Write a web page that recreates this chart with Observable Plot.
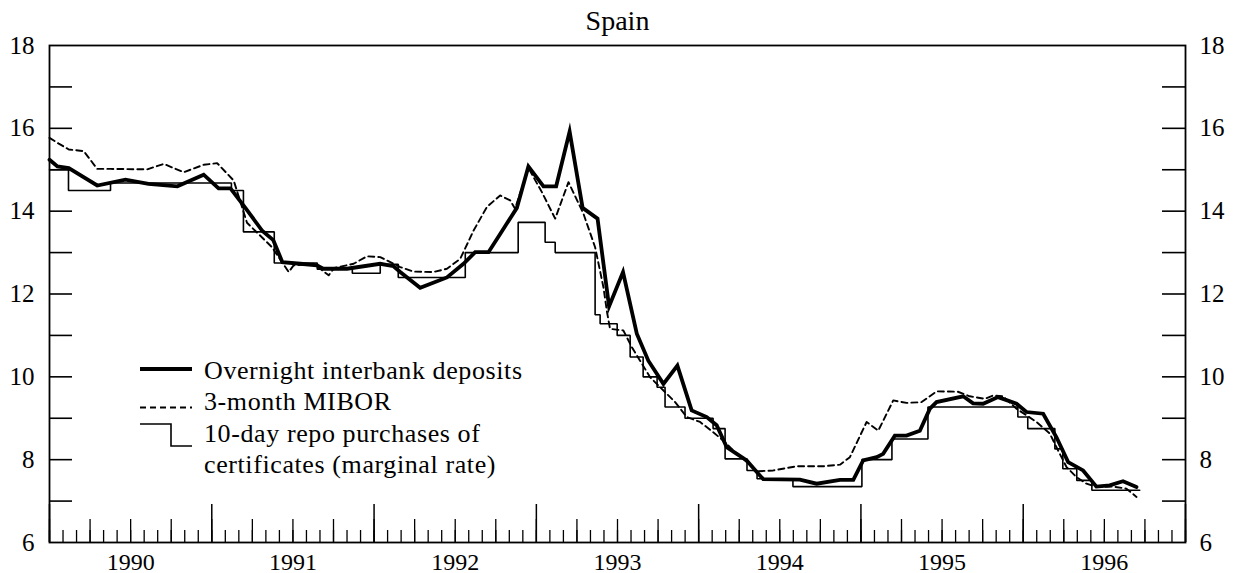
<!DOCTYPE html>
<html><head><meta charset="utf-8">
<script src="https://cdn.jsdelivr.net/npm/d3@7"></script>
<script src="https://cdn.jsdelivr.net/npm/@observablehq/plot@0.6"></script>
<style>
body{margin:0;background:#fff;}
#wrap{position:relative;width:1234px;height:573px;}
#legend{position:absolute;left:0;top:0;pointer-events:none;}
</style></head><body><div id="wrap"></div>
<script>
// ---- data (decimal years, percent) ----
const overnightDates = [1990.000,1990.049,1990.119,1990.294,1990.468,1990.610,1990.788,1990.950,1991.042,1991.115,1991.207,1991.312,1991.379,1991.435,1991.546,1991.648,1991.687,1991.833,1992.038,1992.120,1992.161,1992.284,1992.449,1992.551,1992.623,1992.705,1992.777,1992.880,1992.951,1993.044,1993.122,1993.205,1993.285,1993.377,1993.448,1993.534,1993.619,1993.690,1993.783,1993.869,1993.957,1994.050,1994.111,1994.173,1994.235,1994.296,1994.358,1994.398,1994.624,1994.727,1994.871,1994.953,1995.014,1995.097,1995.137,1995.209,1995.281,1995.363,1995.425,1995.466,1995.630,1995.691,1995.753,1995.845,1995.959,1996.020,1996.123,1996.205,1996.277,1996.369,1996.451,1996.533,1996.615,1996.698];
const overnightRates = [15.24,15.08,15.04,14.62,14.76,14.66,14.60,14.88,14.55,14.55,14.08,13.52,13.30,12.77,12.73,12.69,12.61,12.61,12.73,12.67,12.53,12.15,12.40,12.73,13.01,13.01,13.45,14.08,15.08,14.60,14.60,15.92,14.08,13.82,11.70,12.53,11.04,10.39,9.83,10.27,9.19,9.03,8.83,8.30,8.14,7.98,7.70,7.53,7.52,7.42,7.51,7.51,7.98,8.06,8.14,8.58,8.58,8.70,9.23,9.39,9.53,9.36,9.35,9.51,9.35,9.15,9.11,8.54,7.94,7.74,7.35,7.38,7.48,7.34];

const miborDates = [1990.000,1990.057,1990.119,1990.211,1990.294,1990.376,1990.602,1990.704,1990.827,1990.950,1991.033,1991.135,1991.217,1991.371,1991.474,1991.504,1991.627,1991.720,1991.755,1991.874,1991.956,1992.038,1992.161,1992.243,1992.366,1992.449,1992.531,1992.613,1992.695,1992.777,1992.839,1992.869,1992.951,1993.034,1993.116,1993.198,1993.290,1993.362,1993.413,1993.436,1993.454,1993.536,1993.588,1993.639,1993.701,1993.783,1993.855,1993.927,1994.009,1994.090,1994.152,1994.214,1994.286,1994.363,1994.460,1994.604,1994.768,1994.871,1994.932,1995.035,1995.107,1995.199,1995.281,1995.374,1995.466,1995.597,1995.671,1995.764,1995.815,1995.876,1995.959,1996.082,1996.164,1996.205,1996.267,1996.328,1996.390,1996.451,1996.554,1996.636,1996.698];
const miborRates = [15.77,15.63,15.49,15.45,15.02,15.02,15.01,15.14,14.94,15.12,15.16,14.74,13.72,13.13,12.53,12.69,12.73,12.45,12.63,12.73,12.91,12.89,12.65,12.54,12.53,12.61,12.85,13.53,14.10,14.38,14.26,14.06,15.04,14.46,13.82,14.70,13.94,13.13,12.17,11.55,11.16,11.12,10.72,10.39,9.99,9.67,9.39,9.03,8.91,8.66,8.46,8.22,7.98,7.72,7.74,7.84,7.84,7.88,8.06,8.91,8.70,9.43,9.37,9.39,9.65,9.64,9.53,9.47,9.55,9.53,9.23,8.91,8.63,8.30,7.82,7.58,7.42,7.34,7.35,7.30,7.10];

const repoDates = [1990.000,1990.117,1990.376,1991.121,1991.195,1991.385,1991.650,1991.866,1992.038,1992.149,1992.562,1992.888,1993.054,1993.116,1993.362,1993.393,1993.498,1993.578,1993.658,1993.744,1993.793,1993.916,1994.089,1994.163,1994.298,1994.360,1994.581,1995.006,1995.191,1995.413,1995.967,1996.028,1996.195,1996.244,1996.330,1996.423,1996.718];
const repoRates = [15.0,14.5,14.68,14.5,13.5,12.75,12.6,12.5,12.72,12.4,13.0,13.73,13.25,13.0,11.5,11.28,11.0,10.48,10.0,9.75,9.27,9.0,8.75,8.02,7.74,7.54,7.35,8.0,8.5,9.27,9.03,8.75,8.26,7.78,7.5,7.26,7.26];

const yearLabels = [1990,1991,1992,1993,1994,1995,1996];
const yLabelValues = [6,8,10,12,14,16,18];
const yTickValues = [7,8,9,10,11,12,13,14,15,16,17];
const legendLabels = ["Overnight interbank deposits","3-month MIBOR","10-day repo purchases of","certificates (marginal rate)"];
const titleText = "Spain";

// ---- build ----
const toRows = (ts, vs) => ts.map((t, i) => ({t, v: vs[i]}));
const overnight = toRows(overnightDates, overnightRates);
const mibor = toRows(miborDates, miborRates);
const repo = toRows(repoDates, repoRates);

const W = 1234, H = 573, mL = 49, mR = 49, mT = 45, mB = 31;
const innerW = W - mL - mR, innerH = H - mT - mB;
const monthTicks = d3.range(0, 85).map(i => 1990 + i / 12);
const quarterTicks = d3.range(0, 29).map(i => 1990 + i / 4);
const yearTicks = d3.range(1990, 1998);
const font = "Liberation Serif, Times New Roman, serif";

const chart = Plot.plot({
  width: W, height: H,
  marginLeft: mL, marginRight: mR, marginTop: mT, marginBottom: mB,
  x: {type: "linear", domain: [1990, 1997], axis: null},
  y: {type: "linear", domain: [6, 18], axis: null},
  style: {fontFamily: font, background: "#fff", color: "#000", overflow: "visible"},
  marks: [
    Plot.tickX(monthTicks, {x: d => d, insetTop: innerH - 12, strokeWidth: 1.3, stroke: "#000"}),
    Plot.tickX(quarterTicks, {x: d => d, insetTop: innerH - 23, strokeWidth: 1.3, stroke: "#000"}),
    Plot.tickX(yearTicks, {x: d => d, insetTop: innerH - 38, strokeWidth: 1.5, stroke: "#000"}),
    Plot.tickY(yTickValues, {y: d => d, insetRight: innerW - 23, strokeWidth: 1.6, stroke: "#000"}),
    Plot.tickY(yTickValues, {y: d => d, insetLeft: innerW - 23, strokeWidth: 1.6, stroke: "#000"}),
    Plot.line(repo, {x: "t", y: "v", curve: "step-after", stroke: "#000", strokeWidth: 1.6, strokeLinejoin: "miter"}),
    Plot.line(mibor, {x: "t", y: "v", stroke: "#000", strokeWidth: 1.9, strokeDasharray: "6,4"}),
    Plot.line(overnight, {x: "t", y: "v", stroke: "#000", strokeWidth: 3.8, strokeLinejoin: "miter", strokeMiterlimit: 8}),
    Plot.frame({stroke: "#000", strokeWidth: 1.8}),
    Plot.text(yLabelValues, {y: d => d, text: d => String(d), frameAnchor: "left", dx: -15, textAnchor: "end", fontSize: 25, fontFamily: font, fill: "#000"}),
    Plot.text(yLabelValues, {y: d => d, text: d => String(d), frameAnchor: "right", dx: 14, textAnchor: "start", fontSize: 25, fontFamily: font, fill: "#000"}),
    Plot.text(yearLabels, {x: d => d + 0.5, text: d => String(d), frameAnchor: "bottom", lineAnchor: "bottom", dy: 27, fontSize: 24, fontFamily: font, fill: "#000"}),
    Plot.text([titleText], {frameAnchor: "top", lineAnchor: "bottom", dy: -16, fontSize: 28, fontFamily: font, fill: "#000"})
  ]
});
const wrap = document.getElementById("wrap");
wrap.appendChild(chart);

// ---- legend overlay ----
const lg = d3.select(wrap).append("svg").attr("id", "legend").attr("width", W).attr("height", H);
lg.append("line").attr("x1", 140).attr("x2", 192).attr("y1", 369).attr("y2", 369).attr("stroke", "#000").attr("stroke-width", 3.8);
lg.append("line").attr("x1", 140).attr("x2", 192).attr("y1", 407.5).attr("y2", 407.5).attr("stroke", "#000").attr("stroke-width", 1.9).attr("stroke-dasharray", "6,4");
lg.append("path").attr("d", "M140,424H171V446H192").attr("fill", "none").attr("stroke", "#000").attr("stroke-width", 1.6);
const baselines = [379, 410, 442, 473];
lg.selectAll("text.lab").data(legendLabels).join("text")
  .attr("x", 204).attr("y", (d, i) => baselines[i])
  .attr("font-family", font).attr("font-size", 26).attr("letter-spacing", "0.6px")
  .attr("fill", "#000").text(d => d);
</script></body></html>
